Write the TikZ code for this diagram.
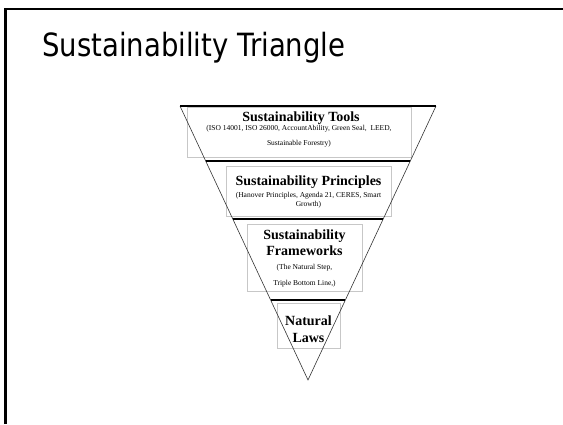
\documentclass[tikz,border=0pt]{standalone}
\usepackage{fontspec}
\setmainfont{Liberation Serif}
\newfontfamily\titlefont[FakeStretch=0.86]{DejaVu Sans}
\usetikzlibrary{calc}

\begin{document}
\begin{tikzpicture}[x=1pt,y=-1pt,
  box/.style={draw=black!22,line width=0.8pt,inner sep=0pt},
  head/.style={font=\fontsize{14}{#1}\bfseries\selectfont,align=center,inner sep=0pt},
  head/.default=16,
  detail/.style={font=\fontsize{7.5}{#1}\selectfont,align=center,inner sep=0pt},
  rule/.style={line width=1.4pt}]
\useasboundingbox (0,0) rectangle (563,424);

% the slide frame and title
\draw[line width=2.5pt] (5.5,424) -- (5.5,9) -- (563,9);
\node[anchor=base west,inner sep=0pt,font=\titlefont\fontsize{32}{38}\selectfont]
  (title) at (42,56) {Sustainability Triangle};

% the grey text boxes
\node[box,minimum width=224pt,minimum height=50pt] (toolsbox) at (299,132) {};
\node[box,minimum width=165pt,minimum height=50pt] (princbox) at (308.5,191) {};
\node[box,minimum width=115pt,minimum height=67pt] (frambox) at (304.5,257.5) {};
\node[box,minimum width=63pt,minimum height=45pt] (natbox) at (308.5,325.5) {};

% the inverted triangle and its layers
\coordinate (tl) at (180,106);
\coordinate (tr) at (436,106);
\coordinate (apex) at (308,380);
\draw[line width=0.6pt,black!80] (tl) -- (apex) -- (tr);
\foreach \t in {0,0.2,0.412,0.708}
  \draw[rule] ($(tl)!\t!(apex)$) -- ($(tr)!\t!(apex)$);

% the texts
\node[head] (toolshead) at (301,118) {Sustainability Tools};
\node[detail=15] (toolsdetail) at (299,136)
  {(ISO 14001, ISO 26000, AccountAbility, Green Seal,\ \ LEED,\\ Sustainable Forestry)};
\node[head] (princhead) at (308.5,182) {Sustainability Principles};
\node[detail=9.5] (princdetail) at (308.5,200)
  {(Hanover Principles, Agenda 21, CERES, Smart\\ Growth)};
\node[head] (framhead) at (304.5,243) {Sustainability\\ Frameworks};
\node[detail=16] (framdetail) at (304.5,276) {(The Natural Step,\\ Triple Bottom Line,)};
\node[head=17] (nathead) at (308.5,329) {Natural\\ Laws};
\end{tikzpicture}
\end{document}
